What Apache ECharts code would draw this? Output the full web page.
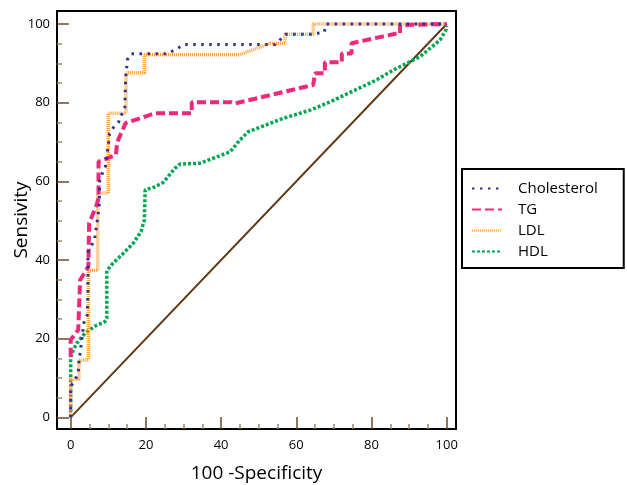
<!DOCTYPE html>
<html>
<head>
<meta charset="utf-8">
<script src="https://cdn.jsdelivr.net/npm/echarts@6/dist/echarts.min.js"></script>
<style>
  html, body { margin: 0; padding: 0; background: #fff; }
  #chart { width: 627px; height: 485px; }
</style>
</head>
<body>
<div id="chart"></div>
<script>
// ROC curves, [100 - specificity, sensitivity]
const cholesterol = [
  [0, 0], [0, 7.8], [2, 11], [2.2, 14], [3.5, 24], [4.4, 26], [4.6, 32], [4.6, 42], [6.3, 45],
  [7, 49.5], [7.6, 54], [7.7, 60], [8.4, 62], [9.3, 64], [9.8, 67.8], [10.1, 70], [10.3, 72],
  [11.3, 73.6], [12.7, 75], [13.7, 77.3], [14.4, 78.8], [14.6, 86], [14.9, 89], [15.1, 91],
  [16, 92.4], [25, 92.4], [26.4, 92.8], [28.4, 93.8], [30.2, 94.8], [54.4, 94.8], [55.7, 96],
  [57.2, 97.4], [64, 97.4], [67.4, 97.9], [68, 100], [100, 100]
];
const tg = [
  [0, 15.4], [0, 19.7], [2, 22.2], [2.5, 22.2], [2.5, 34.9], [4.7, 38.3], [4.9, 38.3], [4.9, 49.3],
  [6.9, 54], [7.4, 55.7], [7.4, 65], [12, 66.7], [12.4, 66.7], [12.4, 70], [14.6, 74.8],
  [22.4, 77.3], [32.2, 77.3], [32.2, 80.1], [42.8, 80.1], [43.7, 79.8], [64.5, 84.5], [65, 84.5],
  [65, 87.5], [67.6, 87.5], [67.6, 90.3], [72.1, 90.3], [72.1, 92.5], [74.7, 92.5], [74.7, 95.1],
  [86.7, 97.6], [87.6, 97.6], [87.6, 99.7], [100, 100]
];
const ldl = [
  [0, 0], [0, 9.7], [2.2, 9.7], [2.2, 14.6], [4.7, 14.6], [4.7, 37.3], [7.2, 37.3], [7.2, 57],
  [10, 57], [10, 77.3], [14.7, 77.3], [14.7, 87.6], [19.6, 87.6], [19.6, 92.2], [45, 92.2],
  [53, 95.1], [57, 95.1], [57, 97.4], [64.5, 97.4], [64.5, 100], [100, 100]
];
const hdl = [
  [0, 0], [0, 15.4], [0.7, 17.1], [1.6, 18.8], [3.8, 21.4], [6.5, 23.2], [9.1, 24.3], [9.6, 25.2],
  [9.6, 37.3], [11.3, 39.2], [14, 41.7], [16.6, 44.2], [18.7, 47.2], [19.6, 50.2], [19.8, 57.8],
  [22.4, 58.6], [24.6, 59.7], [27.7, 63.3], [29.1, 64.4], [34.4, 64.6], [42.4, 67.5], [45, 70.5],
  [47.2, 72.6], [56.5, 76], [63.7, 78.1], [69, 80.2], [81.4, 85.8], [85.8, 88.3], [92.9, 91.7],
  [98.2, 95.9], [99.8, 98.5], [100, 99.5]
];
const reference = [[0, 0], [100, 100]];

const majorTicks = [0, 20, 40, 60, 80, 100];
const minorTicks = [5, 10, 15, 25, 30, 35, 45, 50, 55, 65, 70, 75, 85, 90, 95];

const FONT = '"Open Sans", sans-serif';
const xRange = { min: -3.64, max: 102.47 };
const yRange = { min: -2.97, max: 103.3 };

const chart = echarts.init(document.getElementById('chart'));

// 两套坐标轴：一套画长刻度和标签，一套画短刻度
const makeX = (major) => ({
  type: 'value',
  ...xRange,
  position: 'bottom',
  splitLine: { show: false },
  axisLine: { show: false, onZero: false },
  axisTick: {
    inside: true,
    length: major ? 12 : 5,
    customValues: major ? majorTicks : minorTicks,
    lineStyle: { color: major ? '#6b4a2b' : '#9c8468', width: 1.5 }
  },
  axisLabel: major ? {
    customValues: majorTicks,
    margin: 10,
    color: '#000',
    fontSize: 13,
    fontFamily: FONT
  } : { show: false },
  name: major ? '100 -Specificity' : '',
  nameLocation: 'middle',
  nameGap: 35,
  nameTextStyle: { color: '#000', fontSize: 19, fontFamily: FONT }
});

const makeY = (major) => ({
  type: 'value',
  ...yRange,
  position: 'left',
  splitLine: { show: false },
  axisLine: { show: false, onZero: false },
  axisTick: {
    inside: true,
    length: major ? 12 : 5,
    customValues: major ? majorTicks : minorTicks,
    lineStyle: { color: major ? '#6b4a2b' : '#9c8468', width: 1.5 }
  },
  axisLabel: major ? {
    customValues: majorTicks,
    margin: 7,
    color: '#000',
    fontSize: 13,
    fontFamily: FONT
  } : { show: false },
  name: major ? 'Sensivity' : '',
  nameLocation: 'middle',
  nameGap: 26,
  nameMoveOverlap: false,
  nameTextStyle: { color: '#000', fontSize: 19, fontFamily: FONT }
});

const lineSeries = (name, data, color, width, type) => ({
  name: name,
  type: 'line',
  data: data,
  symbol: 'none',
  animation: false,
  lineStyle: { color: color, width: width, type: type },
  itemStyle: { color: color }
});

const option = {
  backgroundColor: '#fff',
  animation: false,
  grid: {
    left: 57,
    right: 171,
    top: 11,
    bottom: 56,
    containLabel: false,
    outerBoundsMode: 'none',
    show: true,
    borderColor: '#000',
    borderWidth: 2,
    backgroundColor: 'transparent'
  },
  xAxis: [makeX(true), makeX(false)],
  yAxis: [makeY(true), makeY(false)],
  legend: {
    data: ['Cholesterol', 'TG', 'LDL', 'HDL'],
    orient: 'vertical',
    left: 462,
    top: 169,
    padding: [12, 26, 9, 9],
    itemWidth: 30,
    itemHeight: 12,
    itemGap: 6,
    borderColor: '#000',
    borderWidth: 2,
    selectedMode: false,
    itemStyle: { color: 'rgba(0,0,0,0)', borderWidth: 0, opacity: 0 },
    textStyle: { color: '#000', fontSize: 15, fontFamily: FONT, padding: [0, 0, 0, 11] }
  },
  series: [
    {
      type: 'line',
      data: reference,
      symbol: 'none',
      silent: true,
      lineStyle: { color: '#603813', width: 2 }
    },
    lineSeries('HDL', hdl, '#00a651', 3.5, [3, 2]),
    lineSeries('LDL', ldl, '#f9a03a', 3.5, [1, 1]),
    lineSeries('TG', tg, '#ec297b', 4, [9, 4]),
    lineSeries('Cholesterol', cholesterol, '#2e3192', 3, [2.5, 5.5])
  ]
};

chart.setOption(option);
</script>
</body>
</html>
